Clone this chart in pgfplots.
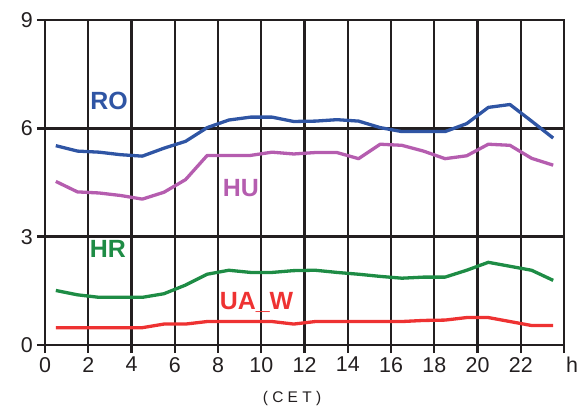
\documentclass[border=0pt]{standalone}
\usepackage{fontspec}
\setmainfont{Liberation Sans}
\usepackage{pgfplots}
\pgfplotsset{compat=1.18}

\definecolor{roblue}{RGB}{47,85,164}
\definecolor{humag}{RGB}{181,93,175}
\definecolor{hrgreen}{RGB}{30,140,69}
\definecolor{uared}{RGB}{238,50,50}
\definecolor{gridk}{RGB}{35,31,32}

\begin{document}
\begin{tikzpicture}[x=1bp,y=1bp]
% picture frame = 580 x 412 px, axis box from (45,20) to (564,345)
\path[use as bounding box] (-45,-67) rectangle (535,345);
\begin{axis}[
    at={(0,0)}, anchor=south west,
    scale only axis,
    width=519bp, height=325bp,
    xmin=0, xmax=24, ymin=0, ymax=9,
    xtick={0,2,...,24},
    xticklabels={0,2,4,6,8,10,12,14,16,18,20,22,\hspace{16bp}h},
    ytick={0,3,6,9},
    grid=major,
    grid style={gridk, line width=2.4bp},
    axis line style={gridk, line width=2.4bp},
    tick style={gridk, line width=2.4bp},
    tick align=outside,
    major tick length=8bp,
    xtick pos=bottom, ytick pos=left,
    tick label style={font=\fontsize{21.5}{24}\selectfont, inner sep=0pt, text=gridk},
    xticklabel style={yshift=-4bp},
    yticklabel style={xshift=-4bp},
    /pgf/number format/assume math mode=true,
    every axis plot/.append style={line width=3.3bp, line join=round},
    clip=false,
]
\addplot[roblue] coordinates {
(0.5,5.52)(1.5,5.37)(2.5,5.34)(3.5,5.27)(4.5,5.23)(5.5,5.45)(6.5,5.64)(7.5,6.02)
(8.5,6.23)(9.5,6.31)(10.5,6.31)(11.5,6.19)(12.5,6.20)(13.5,6.24)(14.5,6.20)(15.5,6.02)
(16.5,5.91)(17.5,5.91)(18.5,5.91)(19.5,6.13)(20.5,6.58)(21.5,6.66)(22.5,6.20)(23.5,5.73)
};
\addplot[humag] coordinates {
(0.5,4.53)(1.5,4.24)(2.5,4.21)(3.5,4.14)(4.5,4.04)(5.5,4.23)(6.5,4.58)(7.5,5.25)
(8.5,5.25)(9.5,5.25)(10.5,5.34)(11.5,5.29)(12.5,5.33)(13.5,5.33)(14.5,5.16)(15.5,5.56)
(16.5,5.53)(17.5,5.37)(18.5,5.16)(19.5,5.24)(20.5,5.56)(21.5,5.53)(22.5,5.17)(23.5,4.98)
};
\addplot[hrgreen] coordinates {
(0.5,1.51)(1.5,1.39)(2.5,1.32)(3.5,1.32)(4.5,1.32)(5.5,1.42)(6.5,1.66)(7.5,1.96)
(8.5,2.07)(9.5,2.01)(10.5,2.01)(11.5,2.06)(12.5,2.07)(13.5,2.01)(14.5,1.96)(15.5,1.90)
(16.5,1.85)(17.5,1.88)(18.5,1.88)(19.5,2.07)(20.5,2.29)(21.5,2.18)(22.5,2.07)(23.5,1.79)
};
\addplot[uared] coordinates {
(0.5,0.48)(1.5,0.48)(2.5,0.48)(3.5,0.48)(4.5,0.48)(5.5,0.58)(6.5,0.58)(7.5,0.65)
(8.5,0.65)(9.5,0.65)(10.5,0.65)(11.5,0.58)(12.5,0.65)(13.5,0.65)(14.5,0.65)(15.5,0.65)
(16.5,0.65)(17.5,0.68)(18.5,0.69)(19.5,0.76)(20.5,0.76)(21.5,0.65)(22.5,0.54)(23.5,0.54)
};
\node[anchor=base, text=roblue, font=\fontsize{25}{28}\selectfont\bfseries] at (axis cs:2.96,6.51) {RO};
\node[anchor=base, text=humag, font=\fontsize{25}{28}\selectfont\bfseries] at (axis cs:9.06,4.10) {HU};
\node[anchor=base, text=hrgreen, font=\fontsize{25}{28}\selectfont\bfseries] at (axis cs:2.91,2.41) {HR};
\node[anchor=base, text=uared, font=\fontsize{25}{28}\selectfont\bfseries] at (axis cs:9.78,0.97) {UA\_W};
\end{axis}
\node[font=\fontsize{15.5}{18}\selectfont, text=gridk] at (247,-53) {( C E T )};
\end{tikzpicture}
\end{document}
